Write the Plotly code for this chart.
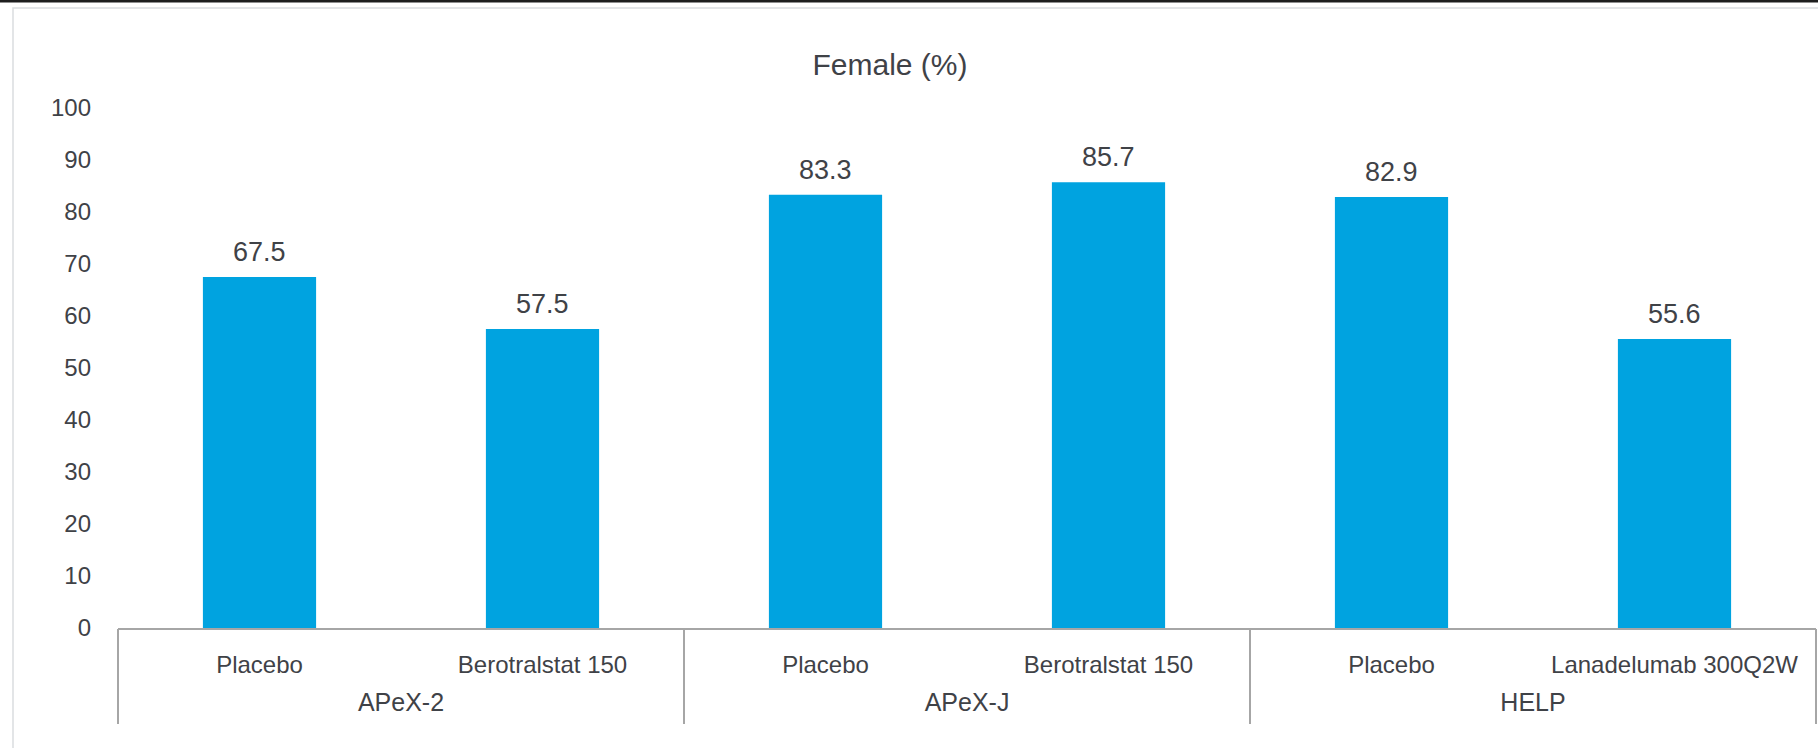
import plotly.graph_objects as go

# Study groups, treatment arms and share of female patients (%)
studies = ["APeX-2", "APeX-2", "APeX-J", "APeX-J", "HELP", "HELP"]
arms = ["Placebo", "Berotralstat 150", "Placebo", "Berotralstat 150",
        "Placebo", "Lanadelumab 300Q2W"]
female_pct = [67.5, 57.5, 83.3, 85.7, 82.9, 55.6]
y_ticks = [0, 10, 20, 30, 40, 50, 60, 70, 80, 90, 100]

BAR_COLOR = "#00A3E0"
TEXT_COLOR = "#3F4247"
AXIS_COLOR = "#A6A6A6"
FONT = "Liberation Sans, Arial, sans-serif"

# slot index of every bar, plus group centres and group boundaries
pos = list(range(len(arms)))
group_names = list(dict.fromkeys(studies))
group_idx = [[i for i, s in enumerate(studies) if s == g] for g in group_names]
group_centers = [sum(ix) / len(ix) for ix in group_idx]
group_bounds = [group_idx[0][0] - 0.5] + [ix[-1] + 0.5 for ix in group_idx]
x_range = [pos[0] - 0.5, pos[-1] + 0.5]

fig = go.Figure()
fig.add_trace(
    go.Bar(
        x=pos,
        y=female_pct,
        width=0.4,
        marker=dict(color=BAR_COLOR, line=dict(width=0)),
        hoverinfo="skip",
    )
)

# transparent anchors so the divider / group-label axes get drawn
for axis_id, xs in (("x2", group_bounds), ("x3", group_centers)):
    fig.add_trace(
        go.Scatter(
            x=xs, y=[0] * len(xs), xaxis=axis_id, yaxis="y",
            mode="markers", marker=dict(opacity=0, size=1),
            hoverinfo="skip", showlegend=False,
        )
    )

# value labels above each bar
for i, v in zip(pos, female_pct):
    fig.add_annotation(
        x=i, y=v, text=f"{v:.1f}", showarrow=False,
        yanchor="bottom", yshift=8,
        font=dict(family=FONT, size=27, color=TEXT_COLOR),
    )

fig.update_layout(
    width=1818,
    height=748,
    margin=dict(l=118, r=2, t=108, b=120),
    paper_bgcolor="white",
    plot_bgcolor="white",
    showlegend=False,
    font=dict(family=FONT, color=TEXT_COLOR),
    title=dict(
        text="Female (%)",
        x=890 / 1818, xref="container", xanchor="center",
        y=1 - 64 / 748, yref="container", yanchor="middle",
        font=dict(family=FONT, size=30, color=TEXT_COLOR),
    ),
    # treatment-arm labels
    xaxis=dict(
        range=x_range,
        tickvals=pos, ticktext=arms,
        showline=True, linecolor=AXIS_COLOR, linewidth=2,
        showgrid=False, zeroline=False, ticks="",
        tickfont=dict(family=FONT, size=24, color=TEXT_COLOR),
        ticklabelstandoff=14,
    ),
    # group dividers
    xaxis2=dict(
        overlaying="x", anchor="y", side="bottom",
        range=x_range,
        tickvals=group_bounds, showticklabels=False,
        ticks="outside", ticklen=95, tickwidth=2, tickcolor=AXIS_COLOR,
        showgrid=False, zeroline=False, showline=False,
    ),
    # study group labels
    xaxis3=dict(
        overlaying="x", anchor="y", side="bottom",
        range=x_range,
        tickvals=group_centers, ticktext=group_names,
        ticks="", showgrid=False, zeroline=False, showline=False,
        tickfont=dict(family=FONT, size=25, color=TEXT_COLOR),
        ticklabelstandoff=57,
    ),
    yaxis=dict(
        range=[0, 100],
        tickvals=y_ticks,
        showgrid=False, zeroline=False, showline=False, ticks="",
        tickfont=dict(family=FONT, size=24, color=TEXT_COLOR),
        ticklabelstandoff=26,
    ),
    shapes=[
        # light frame around the chart area
        dict(type="rect", xref="paper", yref="paper",
             x0=(13 - 118) / 1698, x1=1.05, y0=-0.26, y1=(628 - 8) / 520,
             line=dict(color="#DADDE0", width=1.5), fillcolor="rgba(0,0,0,0)",
             layer="below"),
        # dark rule along the top edge
        dict(type="line", xref="paper", yref="paper",
             x0=-0.1, x1=1.05, y0=(628 - 1) / 520, y1=(628 - 1) / 520,
             line=dict(color="#1E1E1E", width=3)),
    ],
)

fig.write_html("out.html")
